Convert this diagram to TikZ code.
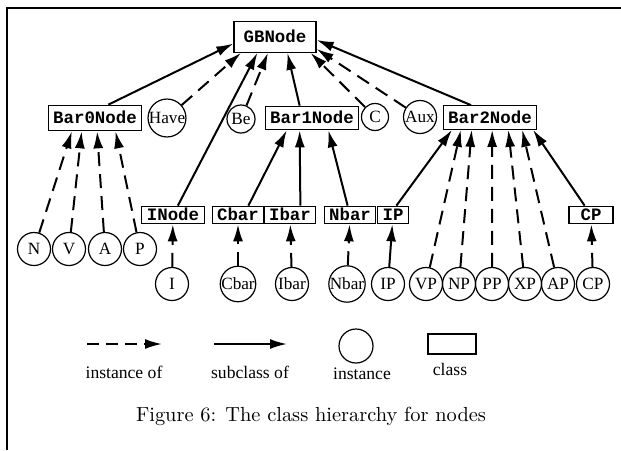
\documentclass[tikz,border=0pt]{standalone}
\usepackage{fontspec}
\usepackage{tikz}
\usetikzlibrary{arrows.meta}
\usetikzlibrary{positioning}

\newfontfamily\clsfont{Liberation Mono}
\newfontfamily\lblfont{Liberation Serif}

\begin{document}
\begin{tikzpicture}[x=0.5pt, y=-0.5pt]

\tikzstyle{classbox}=[rectangle, draw, line width=0.6pt, inner xsep=2.5pt,
  inner ysep=1.25pt, text height=6pt, text depth=0.25pt,
  font=\clsfont\bfseries\fontsize{8.7}{10}\selectfont]
\tikzstyle{upper}=[classbox, inner ysep=2.75pt]
\tikzstyle{instnode}=[circle, draw, line width=0.6pt, minimum size=16.5pt,
  inner sep=0pt, font=\lblfont\fontsize{8.6}{9}\selectfont]
\tikzstyle{legtext}=[font=\lblfont\fontsize{8.8}{10}\selectfont]

\tikzstyle{arrsub}=[-{Latex[length=8.5pt,width=5pt]}, line width=1pt]
\tikzstyle{arrinst}=[arrsub, dash pattern=on 7pt off 4pt]

\useasboundingbox (0,0) rectangle (621,450);
\draw[line width=0.8pt] (7,450) -- (7,8) -- (621,8);

% classes
\node[classbox, inner xsep=4.85pt, inner ysep=4.5pt] (GB) at (275,37) {GBNode};
\node[upper, inner ysep=3.25pt] (bar0) at (95,118) {Bar0Node};
\node[upper] (bar1) at (312,118) {Bar1Node};
\node[upper] (bar2) at (490,117.5) {Bar2Node};

\node[classbox] (inode) at (173,215) {INode};
\node[classbox] (cbar) at (238,215) {Cbar};
\node[classbox] (ibar) at (290,215) {Ibar};
\node[classbox] (nbar) at (350,215) {Nbar};
\node[classbox] (ip) at (393,215) {IP};
\node[classbox, minimum width=22pt] (cp) at (591,215) {CP};

% instances
\node[instnode] (iHave) at (167,118) {Have};
\node[instnode, minimum size=14pt] (iBe) at (241,119) {Be};
\node[instnode, minimum size=13.5pt] (iC) at (375,117) {C};
\node[instnode] (iAux) at (420,117) {Aux};

\node[instnode] (iN) at (34,249) {N};
\node[instnode] (iV) at (69,249) {V};
\node[instnode] (iA) at (105,249) {A};
\node[instnode] (iP) at (140,249) {P};

\node[instnode] (iI) at (172,284) {I};
\node[instnode] (iCbar) at (238,284) {Cbar};
\node[instnode] (iIbar) at (292,284) {Ibar};
\node[instnode] (iNbar) at (347,284) {Nbar};
\node[instnode] (iIP) at (388,284) {IP};
\node[instnode] (iVP) at (426,284) {VP};
\node[instnode] (iNP) at (459,284) {NP};
\node[instnode] (iPP) at (492,284) {PP};
\node[instnode] (iXP) at (525,284) {XP};
\node[instnode] (iAP) at (558,284) {AP};
\node[instnode] (iCP) at (593,284) {CP};

% into GBNode
\draw[arrsub] (bar0.45) -- (GB.189);
\draw[arrinst] (iHave) -- (GB.205);
\draw[arrsub] (inode) -- (GB.222);
\draw[arrinst] (iBe) -- (GB.246);
\draw[arrsub] (bar1.135) -- (GB.308);
\draw[arrinst] (iC) -- (GB.336);
\draw[arrinst] (iAux) -- (GB.344);
\draw[arrsub] (bar2.147) -- (GB.356);

% into Bar0Node
\draw[arrinst] (iN) -- (bar0.210);
\draw[arrinst] (iV) -- (bar0.225);
\draw[arrinst] (iA) -- (bar0.279);
\draw[arrinst] (iP) -- (bar0.327);

% into Bar1Node
\draw[arrsub] (cbar.42) -- (bar1.206);
\draw[arrsub] (ibar.42) -- (bar1.225);
\draw[arrsub] (nbar) -- (bar1.323);

% into Bar2Node
\draw[arrsub] (ip.70) -- (bar2.198);
\draw[arrinst] (iVP) -- (bar2.203);
\draw[arrinst] (iNP) -- (bar2.214);
\draw[arrinst] (iPP) -- (bar2.280);
\draw[arrinst] (iXP) -- (bar2.326);
\draw[arrinst] (iAP) -- (bar2.339);
\draw[arrsub] (cp) -- (bar2.344);

% lowest row
\draw[arrinst] (iI) -- (inode);
\draw[arrinst] (iCbar) -- (cbar);
\draw[arrinst] (iIbar) -- (ibar);
\draw[arrinst] (iNbar) -- (nbar);
\draw[arrsub] (iIP) -- (ip);
\draw[arrinst] (iCP) -- (cp);

% legend
\coordinate (instA) at (87,344);
\coordinate (instB) at (162,344);
\coordinate (subA) at (214,344);
\coordinate (subB) at (287,344);
\draw[arrinst, dash pattern=on 6pt off 3.5pt] (instA) -- (instB);
\draw[arrsub] (subA) -- (subB);
\node[legtext] (instoflab) at (124,372) {instance of};
\node[legtext] (suboflab) at (250,372) {subclass of};
\node[circle, draw, line width=0.6pt, minimum size=17pt, inner sep=0pt] (leginst) at (356,346) {};
\node[legtext] (leginstlab) at (362,374) {instance};
\node[rectangle, draw, line width=0.6pt, minimum width=24pt, minimum height=10pt, inner sep=0pt] (legcls) at (452,344) {};
\node[legtext] (legclslab) at (450,369) {class};

\node[font=\fontsize{10.2}{12}\selectfont] (caption) at (311,416)
  {Figure 6: The class hierarchy for nodes};

\end{tikzpicture}
\end{document}
